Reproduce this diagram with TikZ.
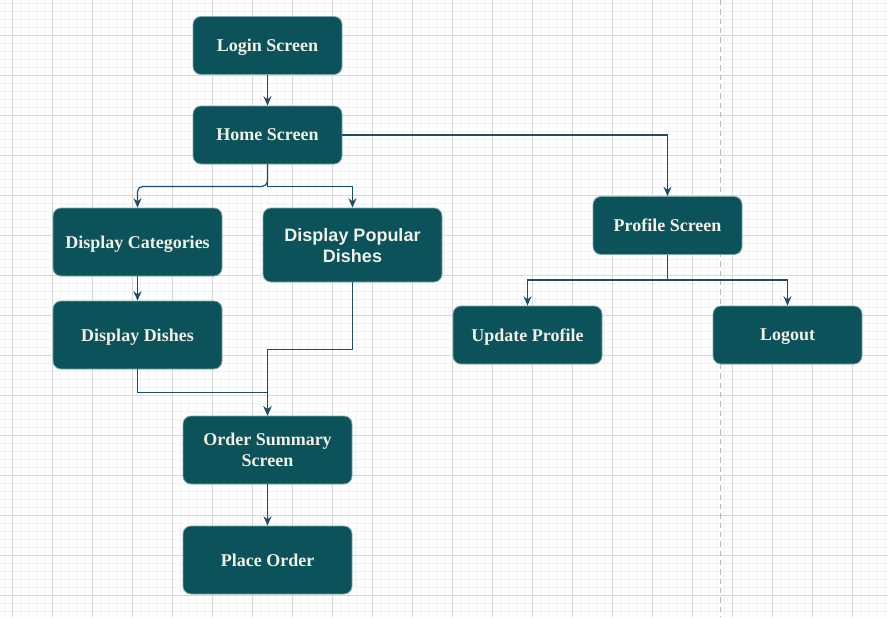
\documentclass[tikz,border=0pt]{standalone}
\usepackage{fontspec}
\setmainfont{Liberation Serif}
\newfontfamily\popfont{Liberation Sans}
\usetikzlibrary{arrows.meta,calc}

\definecolor{boxfill}{HTML}{0B525B}
\definecolor{boxline}{HTML}{7FA7AD}
\definecolor{boxtext}{HTML}{F2F0E4}
\definecolor{flowline}{HTML}{1E4D6B}
\definecolor{gridminor}{HTML}{F3F3F3}
\definecolor{gridmajor}{HTML}{D9D9D9}

\begin{document}
\begin{tikzpicture}[x=0.75pt,y=-0.75pt]

% --------------------
% Parameters (pixel units, 1px = 0.75pt)
% --------------------
\def\bW{149*0.75pt}   % small box width
\def\bH{58*0.75pt}    % small box height
\def\lW{169*0.75pt}   % large box width
\def\lH{68*0.75pt}    % large box height
\def\splitA{22}       % drop below home screen before splitting
\def\splitB{25}       % drop below profile screen before splitting

\tikzset{
  screen/.style={draw=boxline, line width=0.6pt, fill=boxfill, rounded corners=6pt,
    text=boxtext, align=center, inner sep=0pt, text depth=0pt,
    font=\fontsize{13.5}{15.75}\selectfont\bfseries,
    minimum width=\bW, minimum height=\bH},
  screenL/.style={screen, minimum width=\lW, minimum height=\lH},
  arrow/.style={-{Stealth[length=7pt,width=6pt]}, draw=flowline, line width=0.9pt}
}

\useasboundingbox (0,0) rectangle (888,617);
\fill[white] (0,0) rectangle (888,617);

% --------------------
% Background grid
% --------------------
\foreach \gx in {4.7,12.7,...,888} \draw[gridminor, line width=0.4pt] (\gx,0) -- (\gx,617);
\foreach \gy in {3,11,...,617} \draw[gridminor, line width=0.4pt] (0,\gy) -- (888,\gy);
\foreach \gx in {12.7,52.7,...,888} \draw[gridmajor, line width=0.6pt] (\gx,0) -- (\gx,617);
\foreach \gy in {35,75,...,617} \draw[gridmajor, line width=0.6pt] (0,\gy) -- (888,\gy);
\draw[gray!55, line width=0.6pt, dash pattern=on 4pt off 3pt] (720,0) -- (720,617);

% --------------------
% Screens
% --------------------
\node[screen] (login) at (267.5,45.5) {Login Screen};
\node[screen] (home) at (267.5,135) {Home Screen};
\node[screenL] (cat) at (137.5,242) {Display Categories};
\node[screenL, minimum width=179*0.75pt, minimum height=74*0.75pt,
  font=\popfont\fontsize{13.5}{15.75}\selectfont\bfseries] (pop) at (352.5,245) {Display Popular\\Dishes};
\node[screenL] (dishes) at (137.5,335) {Display Dishes};
\node[screenL] (summary) at (267.5,450) {Order Summary\\Screen};
\node[screenL] (place) at (267.5,560) {Place Order};
\node[screen] (profile) at (667.5,225.5) {Profile Screen};
\node[screen] (update) at (527.5,335) {Update Profile};
\node[screen] (logout) at (787.5,335) {Logout};

% --------------------
% Flow arrows
% --------------------
\draw[arrow] (login) -- (home);
\draw[arrow, rounded corners=4pt] (home.south) -- ++(0,\splitA) -| (cat.north);
\draw[arrow] (home.south) -- ++(0,\splitA) -| (pop.north);
\draw[arrow] (home.east) -| (profile.north);
\draw[arrow] (cat) -- (dishes);
\draw[arrow] (dishes.south) -- ++(0,23) -| (summary.north);
\draw[arrow] (pop.south) -- ++(0,67) -| (summary.north);
\draw[arrow] (summary) -- (place);
\draw[arrow] (profile.south) -- ++(0,\splitB) -| (update.north);
\draw[arrow] (profile.south) -- ++(0,\splitB) -| (logout.north);

\end{tikzpicture}
\end{document}
